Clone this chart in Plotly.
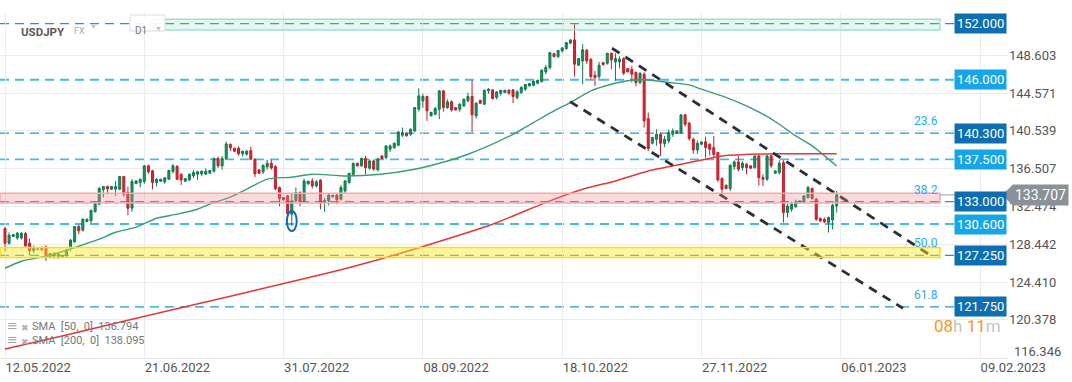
import plotly.graph_objects as go
import pandas as pd

# ---------------- data ----------------
# daily sessions (Sun-Fri), 1 Jan 2023 absent
_days = pd.date_range("2022-05-12", "2023-01-05", freq="D")
dates = [d.strftime("%Y-%m-%d") for d in _days
         if d.weekday() != 5 and d.strftime("%Y-%m-%d") != "2023-01-01"]

opens = [
    130.12, 128.55, 129.27, 129.12, 129.10, 129.58, 128.55, 127.75, 127.95, 128.05,
    128.16, 127.09, 127.45, 127.13, 127.20, 127.20, 128.02, 128.70, 130.33, 129.94,
    130.87, 130.94, 131.93, 132.72, 134.25, 134.60, 134.32, 134.32, 134.32, 135.67,
    133.96, 132.29, 134.92, 135.03, 135.13, 136.81, 136.27, 135.03, 135.17, 135.10,
    135.38, 136.20, 136.73, 135.92, 135.17, 135.31, 135.74, 135.92, 135.95, 135.92,
    136.02, 136.24, 137.59, 136.81, 137.59, 139.10, 138.69, 138.69, 138.09, 138.05,
    138.44, 137.52, 136.38, 136.17, 136.70, 137.09, 136.73, 134.49, 133.43, 133.60,
    131.65, 133.07, 133.96, 133.00, 134.88, 135.20, 134.67, 135.28, 132.89, 133.07,
    133.50, 133.67, 133.25, 134.13, 135.03, 135.88, 137.09, 136.81, 137.59, 136.56,
    137.34, 136.38, 137.87, 137.69, 138.58, 138.76, 139.01, 140.08, 140.29, 140.18,
    140.54, 142.85, 143.74, 144.21, 142.14, 142.32, 142.85, 144.81, 143.03, 143.64,
    143.03, 142.85, 143.21, 143.74, 144.21, 142.14, 143.81, 143.39, 144.81, 144.92,
    144.10, 144.56, 144.63, 144.88, 144.92, 144.10, 144.63, 144.99, 145.34, 145.41,
    145.63, 145.81, 146.84, 147.30, 148.79, 148.47, 149.08, 149.33, 149.90, 150.25,
    147.55, 148.00, 149.15, 148.19, 146.48, 146.34, 147.83, 147.76, 148.83, 147.90,
    147.90, 148.26, 147.19, 147.12, 146.77, 145.70, 146.59, 141.86, 139.22, 139.65,
    140.18, 139.20, 139.47, 140.18, 140.29, 140.36, 142.25, 141.36, 139.65, 138.51,
    139.12, 139.37, 139.12, 138.76, 138.23, 135.45, 134.74, 134.39, 136.73, 137.23,
    136.63, 136.98, 136.81, 136.63, 137.87, 135.56, 135.38, 137.87, 136.02, 136.09,
    137.16, 131.82, 132.18, 132.46, 132.89, 132.96, 133.43, 134.39, 133.25, 131.18,
    131.11, 130.76, 131.04, 132.53,
]
highs = [
    130.30, 129.70, 129.55, 129.76, 129.76, 129.76, 129.05, 128.30, 128.00, 128.20,
    128.30, 127.50, 127.60, 127.50, 127.25, 127.95, 129.00, 130.40, 130.50, 131.20,
    131.20, 132.10, 133.00, 134.56, 134.65, 134.70, 134.65, 135.20, 135.70, 135.75,
    134.60, 135.40, 135.25, 135.45, 136.90, 136.95, 136.40, 135.50, 135.42, 135.60,
    136.40, 137.00, 136.90, 136.00, 135.50, 136.00, 136.35, 136.30, 136.30, 136.55,
    136.35, 137.70, 137.80, 137.85, 139.40, 139.20, 138.75, 138.90, 138.40, 138.50,
    138.85, 137.60, 136.40, 136.95, 137.45, 137.45, 136.90, 134.60, 133.45, 133.70,
    133.90, 134.50, 134.10, 135.45, 135.20, 135.50, 135.30, 135.40, 133.40, 133.80,
    133.70, 133.80, 134.78, 135.30, 136.10, 137.20, 137.15, 137.70, 137.87, 137.50,
    137.50, 137.70, 137.95, 139.00, 139.10, 139.30, 140.50, 140.90, 140.35, 140.80,
    143.10, 145.09, 144.50, 144.30, 142.60, 143.10, 144.90, 144.92, 143.90, 143.80,
    143.10, 143.50, 144.00, 144.60, 145.95, 143.60, 143.85, 144.95, 145.10, 144.95,
    144.80, 144.90, 144.90, 145.00, 145.00, 144.90, 145.30, 145.50, 145.60, 145.90,
    146.00, 147.10, 147.60, 148.90, 148.85, 149.15, 149.50, 150.00, 150.30, 151.93,
    148.30, 149.79, 149.30, 148.30, 146.94, 147.90, 147.90, 148.85, 148.90, 148.83,
    148.50, 148.40, 147.25, 147.50, 146.90, 146.80, 146.80, 142.50, 139.90, 140.72,
    140.40, 140.00, 140.70, 140.80, 140.60, 142.30, 142.30, 141.50, 139.80, 139.50,
    139.40, 139.94, 139.20, 140.01, 138.30, 135.60, 134.80, 136.95, 137.40, 137.90,
    137.30, 137.10, 136.85, 137.90, 138.00, 135.90, 138.00, 138.00, 136.30, 137.40,
    137.40, 132.80, 133.00, 133.20, 133.10, 133.70, 134.67, 134.50, 133.40, 131.30,
    131.30, 131.40, 132.80, 134.13,
]
lows = [
    127.66, 128.40, 129.20, 128.90, 128.95, 128.10, 127.27, 127.50, 127.85, 127.70,
    126.67, 126.92, 126.90, 126.90, 127.05, 127.10, 127.70, 128.60, 129.50, 129.80,
    130.80, 130.70, 131.80, 132.60, 133.43, 133.78, 134.25, 133.60, 134.20, 133.53,
    131.54, 131.90, 134.85, 134.50, 134.90, 135.95, 134.30, 134.60, 135.10, 134.90,
    135.30, 136.00, 135.30, 134.75, 135.10, 135.20, 135.50, 135.30, 135.70, 135.85,
    136.00, 136.10, 136.60, 136.40, 137.50, 138.40, 138.30, 137.90, 137.80, 137.90,
    137.40, 135.60, 135.95, 135.95, 136.40, 136.40, 134.20, 132.50, 133.10, 131.60,
    130.40, 132.90, 132.50, 132.90, 134.80, 134.40, 134.50, 132.18, 131.89, 132.60,
    133.45, 132.71, 133.10, 133.90, 134.90, 135.80, 136.75, 136.70, 135.91, 136.40,
    136.30, 136.20, 137.50, 137.50, 138.30, 138.60, 138.90, 139.90, 139.95, 140.00,
    140.40, 142.60, 143.00, 141.61, 142.10, 142.20, 141.79, 142.60, 142.90, 142.60,
    142.70, 142.60, 143.10, 143.60, 140.43, 141.86, 143.40, 143.30, 144.50, 143.90,
    143.90, 144.30, 144.60, 144.40, 143.50, 143.90, 144.50, 144.80, 145.30, 145.30,
    145.50, 145.70, 146.60, 147.10, 148.40, 148.30, 148.90, 149.20, 149.80, 146.34,
    147.50, 145.52, 147.70, 146.10, 145.34, 145.90, 147.50, 147.60, 147.12, 145.88,
    147.20, 146.50, 146.80, 145.70, 145.30, 145.50, 140.90, 138.40, 139.10, 138.94,
    137.87, 138.80, 139.20, 139.90, 140.20, 140.20, 141.00, 139.50, 138.10, 138.10,
    139.00, 137.69, 137.90, 137.69, 135.10, 133.67, 134.30, 134.10, 136.40, 136.20,
    136.30, 135.90, 136.50, 136.50, 134.70, 134.67, 135.20, 136.60, 136.00, 135.90,
    130.76, 131.30, 131.90, 132.30, 132.85, 132.80, 133.30, 133.20, 130.93, 130.80,
    130.70, 129.69, 130.04, 131.82,
]
closes = [
    128.55, 129.41, 129.47, 129.62, 129.60, 128.27, 127.73, 128.05, 127.90, 127.90,
    127.02, 127.45, 127.20, 127.38, 127.13, 127.84, 128.87, 130.33, 129.87, 131.11,
    131.11, 132.07, 132.82, 134.39, 134.60, 134.35, 134.60, 134.60, 135.67, 133.78,
    132.29, 135.13, 135.20, 135.38, 136.81, 136.17, 135.03, 135.38, 135.38, 135.53,
    136.31, 136.81, 135.38, 135.31, 135.45, 135.92, 136.09, 136.17, 136.24, 136.24,
    136.31, 137.59, 136.81, 137.59, 139.15, 138.73, 138.37, 138.09, 138.37, 138.37,
    137.52, 135.95, 136.02, 136.88, 137.09, 136.59, 134.39, 133.32, 133.18, 131.68,
    133.07, 133.96, 132.96, 135.20, 135.17, 134.67, 135.10, 132.89, 133.10, 133.67,
    133.67, 133.20, 134.49, 135.20, 135.99, 137.05, 136.81, 137.59, 136.63, 137.34,
    136.45, 137.52, 137.59, 138.94, 138.94, 139.22, 140.43, 140.36, 140.01, 140.72,
    143.03, 144.28, 144.21, 142.68, 142.50, 142.92, 144.81, 143.03, 143.64, 142.78,
    142.78, 143.39, 143.92, 144.21, 142.25, 143.49, 143.49, 144.88, 144.99, 143.99,
    144.70, 144.88, 144.88, 144.56, 144.20, 144.70, 145.17, 145.49, 145.59, 145.84,
    145.95, 147.02, 147.30, 148.90, 148.47, 149.12, 149.40, 149.97, 150.25, 147.66,
    148.26, 149.19, 148.01, 146.34, 146.23, 147.55, 147.62, 148.83, 148.12, 148.26,
    148.20, 146.70, 146.84, 146.59, 145.70, 146.70, 141.61, 138.66, 139.83, 140.18,
    139.22, 139.65, 140.36, 140.54, 140.54, 142.25, 141.25, 139.72, 138.51, 139.22,
    139.37, 138.76, 138.58, 138.05, 135.31, 134.31, 134.39, 136.88, 137.23, 136.45,
    137.09, 136.63, 136.55, 137.87, 135.56, 135.38, 137.87, 136.81, 136.27, 137.09,
    131.82, 132.53, 132.71, 132.96, 133.07, 133.60, 134.49, 133.32, 131.11, 130.93,
    130.83, 131.29, 132.60, 133.71,
]

sma50_dates = ["2022-05-12", "2022-05-17", "2022-05-25", "2022-06-02", "2022-06-08",
               "2022-06-13", "2022-06-19", "2022-06-24", "2022-06-30", "2022-07-06",
               "2022-07-10", "2022-07-15", "2022-07-20", "2022-07-26", "2022-08-02",
               "2022-08-08", "2022-08-17", "2022-08-26", "2022-09-06", "2022-09-15",
               "2022-09-21", "2022-09-27", "2022-10-04", "2022-10-10", "2022-10-16",
               "2022-10-20", "2022-10-26", "2022-11-01", "2022-11-07", "2022-11-11",
               "2022-11-17", "2022-11-23", "2022-11-27", "2022-12-02", "2022-12-08",
               "2022-12-14", "2022-12-19", "2022-12-23", "2022-12-28", "2023-01-05"]
sma50_values = [125.88, 126.63, 127.27, 128.23, 128.98, 129.72, 130.26, 131.22, 131.65, 132.18,
                132.72, 133.47, 134.32, 135.39, 135.60, 135.92, 135.73, 135.88, 136.45, 137.33,
                138.05, 138.94, 140.18, 141.43, 142.67, 143.57, 144.81, 145.52, 145.95, 145.98,
                145.70, 145.45, 144.99, 144.27, 143.39, 142.32, 141.25, 140.00, 138.94, 136.79]

sma200_dates = ["2022-05-12", "2022-05-30", "2022-06-17", "2022-07-15", "2022-07-29",
                "2022-08-12", "2022-08-19", "2022-08-29", "2022-09-08", "2022-09-28",
                "2022-10-14", "2022-10-24", "2022-11-02", "2022-11-11", "2022-11-21",
                "2022-11-28", "2022-12-02", "2022-12-11", "2022-12-19", "2023-01-05"]
sma200_values = [117.25, 118.76, 120.43, 122.90, 124.15, 125.40, 126.06, 127.02, 128.20, 130.58,
                 133.07, 134.31, 135.20, 136.27, 136.98, 137.52, 137.87, 138.04, 138.10, 138.10]

levels = [152.000, 146.000, 140.300, 137.500, 133.000, 130.600, 127.250, 121.750]
level_kind = ["dark", "light", "dark", "light", "dark", "light", "dark", "dark"]
fib_labels = ["23.6", "38.2", "50.0", "61.8"]
fib_prices = [140.300, 133.000, 127.250, 121.750]
last_price = 133.707

x_tick_labels = ["12.05.2022", "21.06.2022", "31.07.2022", "08.09.2022",
                 "18.10.2022", "27.11.2022", "06.01.2023", "09.02.2023"]
y_tick_values = [148.603, 144.571, 140.539, 136.507, 132.474, 128.442, 124.410, 120.378, 116.346]

sma50_label = "SMA  [50,  0]  136.794"
sma200_label = "SMA  [200,  0]  138.095"

# ---------------- layout geometry ----------------
W, H = 1072, 382
ML, MR, MT, MB = 0, 64, 12, 24
PW, PH = W - ML - MR, H - MT - MB
BAR_PX = 4.097            # pixels per session
X0_PX = 5                 # pixel of first session
xr = [(0 - X0_PX) / BAR_PX, (PW - X0_PX) / BAR_PX]
yr = [116.30, 116.30 + PH / 9.369]

xi = list(range(len(dates)))
pos = {d: i for i, d in enumerate(dates)}


def pxp(x):
    return x / PW


def pyp(y):
    return (H - MB - y) / PH


def price_p(p):
    return (p - yr[0]) / (yr[1] - yr[0])


def idx_of_px(x):
    return (x - X0_PX) / BAR_PX


FONT = "Roboto, 'Open Sans', Arial, sans-serif"
fig = go.Figure()

fig.add_trace(go.Candlestick(
    x=xi, open=opens, high=highs, low=lows, close=closes,
    increasing=dict(line=dict(color="#0f7a4d", width=1), fillcolor="#17965f"),
    decreasing=dict(line=dict(color="#c01f2b", width=1), fillcolor="#d82634"),
    whiskerwidth=0, hoverinfo="skip", name="USDJPY",
))

fig.add_trace(go.Scatter(
    x=[pos[d] for d in sma50_dates], y=sma50_values, mode="lines",
    line=dict(color="#3a9e74", width=1.4, shape="spline", smoothing=0.6),
    hoverinfo="skip"))
fig.add_trace(go.Scatter(
    x=[pos[d] for d in sma200_dates], y=sma200_values, mode="lines",
    line=dict(color="#e03a36", width=1.5, shape="spline", smoothing=0.5),
    hoverinfo="skip"))

shapes = []
annotations = []
band_end = idx_of_px(940)
line_end = idx_of_px(955)

# horizontal levels
for lv, kind in zip(levels, level_kind):
    col = "#1f95dc" if kind == "dark" else "#45b8f2"
    wid = 1.3 if kind == "dark" else 1.9
    shapes.append(dict(type="line", xref="x", yref="y", x0=xr[0], x1=line_end, y0=lv, y1=lv,
                       line=dict(color=col, width=wid, dash="9px,6px"), layer="below"))
    annotations.append(dict(xref="x", yref="y", x=idx_of_px(980), y=lv,
                            text=f"{lv:.3f}", showarrow=False,
                            font=dict(family=FONT, size=13, color="white"),
                            bgcolor="#0d6fb1" if kind == "dark" else "#17a5ea",
                            borderpad=2, xanchor="center", yanchor="middle"))

# fib labels
for lab, pr in zip(fib_labels, fib_prices):
    annotations.append(dict(xref="x", yref="y", x=band_end, y=pr, text=lab, showarrow=False,
                            xanchor="right", yanchor="bottom", yshift=3,
                            font=dict(family=FONT, size=12, color="#2aaaf0")))

# channel lines
shapes.append(dict(type="line", xref="x", yref="y",
                   x0=idx_of_px(612), y0=149.36, x1=idx_of_px(930), y1=127.30,
                   line=dict(color="#2b2f36", width=2.8, dash="9px,7px"), layer="above"))
shapes.append(dict(type="line", xref="x", yref="y",
                   x0=idx_of_px(570), y0=143.67, x1=idx_of_px(903), y1=121.61,
                   line=dict(color="#2b2f36", width=2.8, dash="9px,7px"), layer="above"))

# zones (drawn on top, translucent)
shapes.append(dict(type="rect", xref="x", yref="y", x0=idx_of_px(153), x1=band_end,
                   y0=151.32, y1=152.46, fillcolor="rgba(120,220,180,0.20)",
                   line=dict(color="#9fe3c8", width=1.5), layer="above"))
shapes.append(dict(type="rect", xref="x", yref="y", x0=xr[0], x1=band_end,
                   y0=132.85, y1=133.88, fillcolor="rgba(244,140,148,0.32)",
                   line=dict(color="#f2aab0", width=1.5), layer="above"))
shapes.append(dict(type="rect", xref="x", yref="y", x0=xr[0], x1=band_end,
                   y0=127.02, y1=128.09, fillcolor="rgba(255,232,40,0.45)",
                   line=dict(color="#f6de22", width=1.5), layer="above"))

# highlight ellipse on the August low
shapes.append(dict(type="circle", xref="x", yref="y",
                   x0=pos["2022-08-02"] - 1.2, x1=pos["2022-08-02"] + 1.2,
                   y0=129.85, y1=132.0, line=dict(color="#1565c0", width=2), layer="above"))

# last price line + tag
shapes.append(dict(type="line", xref="x", yref="y", x0=band_end, x1=idx_of_px(1003),
                   y0=last_price, y1=last_price, line=dict(color="#9aa0a6", width=1)))
lp = price_p(last_price)
dyp = 10.5 / PH
shapes.append(dict(type="path", xref="paper", yref="paper",
                   path=(f"M {pxp(1002)},{lp} L {pxp(1013)},{lp + dyp} "
                         f"L {pxp(1013)},{lp - dyp} Z"),
                   fillcolor="#8a9197", line=dict(width=0), layer="above"))
annotations.append(dict(xref="paper", yref="paper", x=pxp(1012), y=lp, xanchor="left",
                        yanchor="middle", text=f"{last_price:.3f}", showarrow=False,
                        bgcolor="#8a9197", borderpad=2,
                        font=dict(family=FONT, size=14, color="white")))

# lowest price label sits a little above its gridline (as on the platform)
annotations.append(dict(xref="paper", yref="paper", x=pxp(1012), y=pyp(351), xanchor="left",
                        yanchor="middle", text=f"{y_tick_values[-1]:.3f}", showarrow=False,
                        font=dict(family=FONT, size=13, color="#555")))

# header
shapes.append(dict(type="rect", xref="paper", yref="paper", x0=pxp(130), x1=pxp(165),
                   y0=pyp(31), y1=pyp(15), fillcolor="rgba(255,255,255,0.9)",
                   line=dict(color="#dcdcdc", width=1), layer="above"))
annotations += [
    dict(xref="paper", yref="paper", x=pxp(19), y=pyp(23), text="<b>USDJPY</b>",
         showarrow=False, xanchor="left", font=dict(family=FONT, size=11.5, color="#5a5a5a")),
    dict(xref="paper", yref="paper", x=pxp(72), y=pyp(24), text="FX",
         showarrow=False, xanchor="left", font=dict(family=FONT, size=9, color="#a8a8a8")),
    dict(xref="paper", yref="paper", x=pxp(88), y=pyp(21), text="▼",
         showarrow=False, xanchor="left", font=dict(family=FONT, size=7, color="#bdbdbd")),
    dict(xref="paper", yref="paper", x=pxp(133), y=pyp(23), text="D1",
         showarrow=False, xanchor="left", font=dict(family=FONT, size=10, color="#777")),
    dict(xref="paper", yref="paper", x=pxp(153), y=pyp(23), text="▼",
         showarrow=False, xanchor="left", font=dict(family=FONT, size=7, color="#bdbdbd")),
]

# indicator legend
for yy, lab in [(335, sma50_label), (349, sma200_label)]:
    annotations += [
        dict(xref="paper", yref="paper", x=pxp(5), y=pyp(yy), text="≡", showarrow=False,
             xanchor="left", font=dict(family="DejaVu Sans", size=13, color="#a0a0a0")),
        dict(xref="paper", yref="paper", x=pxp(19), y=pyp(yy), text="✖", showarrow=False,
             xanchor="left", font=dict(family="DejaVu Sans", size=9, color="#b0b0b0")),
        dict(xref="paper", yref="paper", x=pxp(30), y=pyp(yy), text=lab, showarrow=False,
             xanchor="left", font=dict(family=FONT, size=11, color="#777")),
    ]

# candle countdown
annotations.append(dict(
    xref="paper", yref="paper", x=pxp(1003), y=pyp(338), xanchor="right", showarrow=False,
    text=("<span style='color:#f59a1e'>08</span><span style='color:#c4c4c4'>h</span> "
          "<span style='color:#f59a1e'>11</span><span style='color:#c4c4c4'>m</span>"),
    font=dict(family=FONT, size=17)))

fig.update_layout(
    width=W, height=H,
    margin=dict(l=ML, r=MR, t=MT, b=MB),
    paper_bgcolor="white", plot_bgcolor="white",
    showlegend=False, hovermode=False,
    shapes=shapes, annotations=annotations,
    xaxis=dict(range=xr, rangeslider=dict(visible=False),
               tickmode="array", tickvals=[34 * k for k in range(len(x_tick_labels))],
               ticktext=x_tick_labels, ticklabelposition="outside right",
               ticklabelstandoff=-3,
               showgrid=True, gridcolor="#ececec", gridwidth=1, zeroline=False,
               showline=True, linecolor="#e6e6e6", ticks="",
               tickfont=dict(family=FONT, size=13, color="#555")),
    yaxis=dict(range=yr, side="right", tickmode="array", tickvals=y_tick_values,
               ticktext=[f"{v:.3f}" for v in y_tick_values[:-1]] + [""],
               showgrid=True, gridcolor="#ececec", gridwidth=1, zeroline=False,
               ticks="", showline=False,
               tickfont=dict(family=FONT, size=13, color="#555")),
)

fig.write_html("out.html", config={"displayModeBar": False},
               post_script="document.body.style.margin='0px';document.body.style.overflow='hidden';")
